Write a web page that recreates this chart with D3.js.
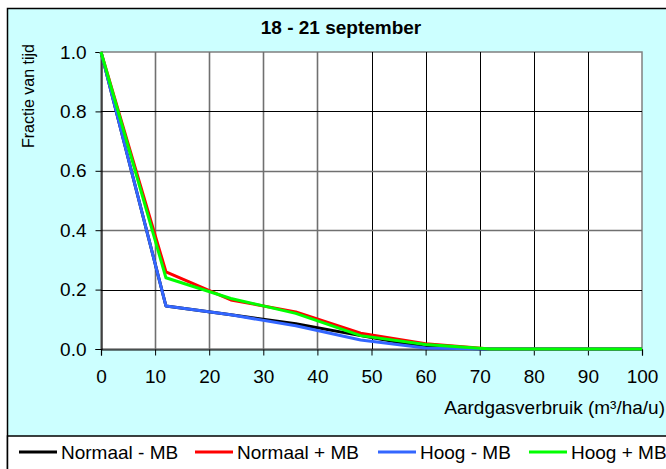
<!DOCTYPE html>
<html><head><meta charset="utf-8">
<script src="https://cdn.jsdelivr.net/npm/d3@7/dist/d3.min.js"></script>
<style>body{margin:0;background:#fff;}svg{display:block;font-family:Arial,"Liberation Sans",sans-serif;}</style>
</head><body><svg id="c" width="666" height="469"></svg>
<script>
const xValues = [0, 12, 24, 36, 48, 60, 72, 84, 96, 100];
const normaalMin = [1.0, 0.145, 0.115, 0.085, 0.045, 0.006, 0, 0, 0, 0];
const normaalPlus = [1.0, 0.26, 0.165, 0.125, 0.053, 0.018, 0, 0, 0, 0];
const hoogMin = [1.0, 0.145, 0.115, 0.078, 0.03, 0.003, 0, 0, 0, 0];
const hoogPlus = [1.0, 0.24, 0.17, 0.12, 0.045, 0.015, 0, 0, 0, 0];
const seriesNames = ["Normaal - MB", "Normaal + MB", "Hoog - MB", "Hoog + MB"];
const seriesColors = ["#000000", "#ff0000", "#3366ff", "#00ff00"];
const xTicks = [0, 10, 20, 30, 40, 50, 60, 70, 80, 90, 100];
const yTicks = [0, 0.2, 0.4, 0.6, 0.8, 1.0];
const title = "18 - 21 september";
const xTitle = "Aardgasverbruik (m³/ha/u)";
const yTitle = "Fractie van tijd";

const svg = d3.select("#c");
const L = 101, R = 642, T = 52, B = 349;
const x = d3.scaleLinear().domain([0, 100]).range([L, R]);
const y = d3.scaleLinear().domain([0, 1]).range([B, T]);

// chart background
svg.append("rect").attr("x", 7.5).attr("y", 8.5).attr("width", 700).attr("height", 500)
  .attr("fill", "#ccffff").attr("stroke", "#000").attr("stroke-width", 1.5);
// legend box
svg.append("rect").attr("x", 7.5).attr("y", 436).attr("width", 700).attr("height", 60)
  .attr("fill", "#fff").attr("stroke", "#000").attr("stroke-width", 1.5);

// plot area
svg.append("rect").attr("x", L).attr("y", T).attr("width", R - L).attr("height", B - T)
  .attr("fill", "#fff").attr("stroke", "#808080").attr("stroke-width", 1.5);

const grayX = [10, 20, 30, 40];
const grayY = [0.4, 0.6];
svg.append("g").selectAll("line").data(xTicks.filter(d => d > 0 && d < 100)).join("line")
  .attr("x1", d => Math.round(x(d)) + 0.5).attr("x2", d => Math.round(x(d)) + 0.5)
  .attr("y1", T).attr("y2", B)
  .attr("stroke", d => grayX.includes(d) ? "#707070" : "#000")
  .attr("stroke-width", d => grayX.includes(d) ? 1.6 : 1);
svg.append("g").selectAll("line").data(yTicks.filter(d => d > 0 && d < 1)).join("line")
  .attr("y1", d => Math.round(y(d)) + 0.5).attr("y2", d => Math.round(y(d)) + 0.5)
  .attr("x1", L).attr("x2", R)
  .attr("stroke", d => grayY.includes(d) ? "#707070" : "#000")
  .attr("stroke-width", d => grayY.includes(d) ? 1.6 : 1);

// axes
const xAxis = d3.axisBottom(x).tickValues(xTicks).tickSize(6).tickPadding(14).tickFormat(d3.format("d"));
const gx = svg.append("g").attr("transform", `translate(0,${B + 0.5})`).call(xAxis);
const yAxis = d3.axisLeft(y).tickValues(yTicks).tickSize(6).tickPadding(9).tickFormat(d3.format(".1f"));
const gy = svg.append("g").attr("transform", `translate(${L + 0.5},0)`).call(yAxis);
[gx, gy].forEach(g => {
  g.select(".domain").attr("stroke", "#000").attr("stroke-width", 1.2);
  g.selectAll(".tick line").attr("stroke", "#000");
  g.selectAll("text").attr("font-size", 19).attr("fill", "#000").attr("font-family", "Arial, 'Liberation Sans', sans-serif");
});

// lines
const allSeries = [normaalMin, normaalPlus, hoogMin, hoogPlus];
const line = d3.line().x((d, i) => x(xValues[i])).y(d => y(d));
svg.append("g").selectAll("path").data(allSeries).join("path")
  .attr("d", d => line(d)).attr("fill", "none")
  .attr("stroke", (d, i) => seriesColors[i]).attr("stroke-width", 3)
  .attr("stroke-linejoin", "round");

// titles
svg.append("text").attr("x", 341).attr("y", 27).attr("text-anchor", "middle")
  .attr("font-size", 19).attr("font-weight", "bold").attr("dominant-baseline", "central").text(title);
svg.append("text").attr("transform", "translate(28,96) rotate(-90)").attr("text-anchor", "middle")
  .attr("dominant-baseline", "central").attr("font-size", 16).text(yTitle);
svg.append("text").attr("x", 665).attr("y", 407).attr("text-anchor", "end")
  .attr("dominant-baseline", "central").attr("font-size", 19).text(xTitle);

// legend
const lineStarts = [19, 195, 378, 529];
const lg = svg.append("g").selectAll("g").data(seriesNames).join("g")
  .attr("transform", (d, i) => `translate(${lineStarts[i]},452)`);
lg.append("line").attr("x1", 0).attr("x2", 38).attr("stroke", (d, i) => seriesColors[i]).attr("stroke-width", 3);
lg.append("text").attr("x", 42).attr("dominant-baseline", "central").attr("font-size", 19).text(d => d);
</script></body></html>
